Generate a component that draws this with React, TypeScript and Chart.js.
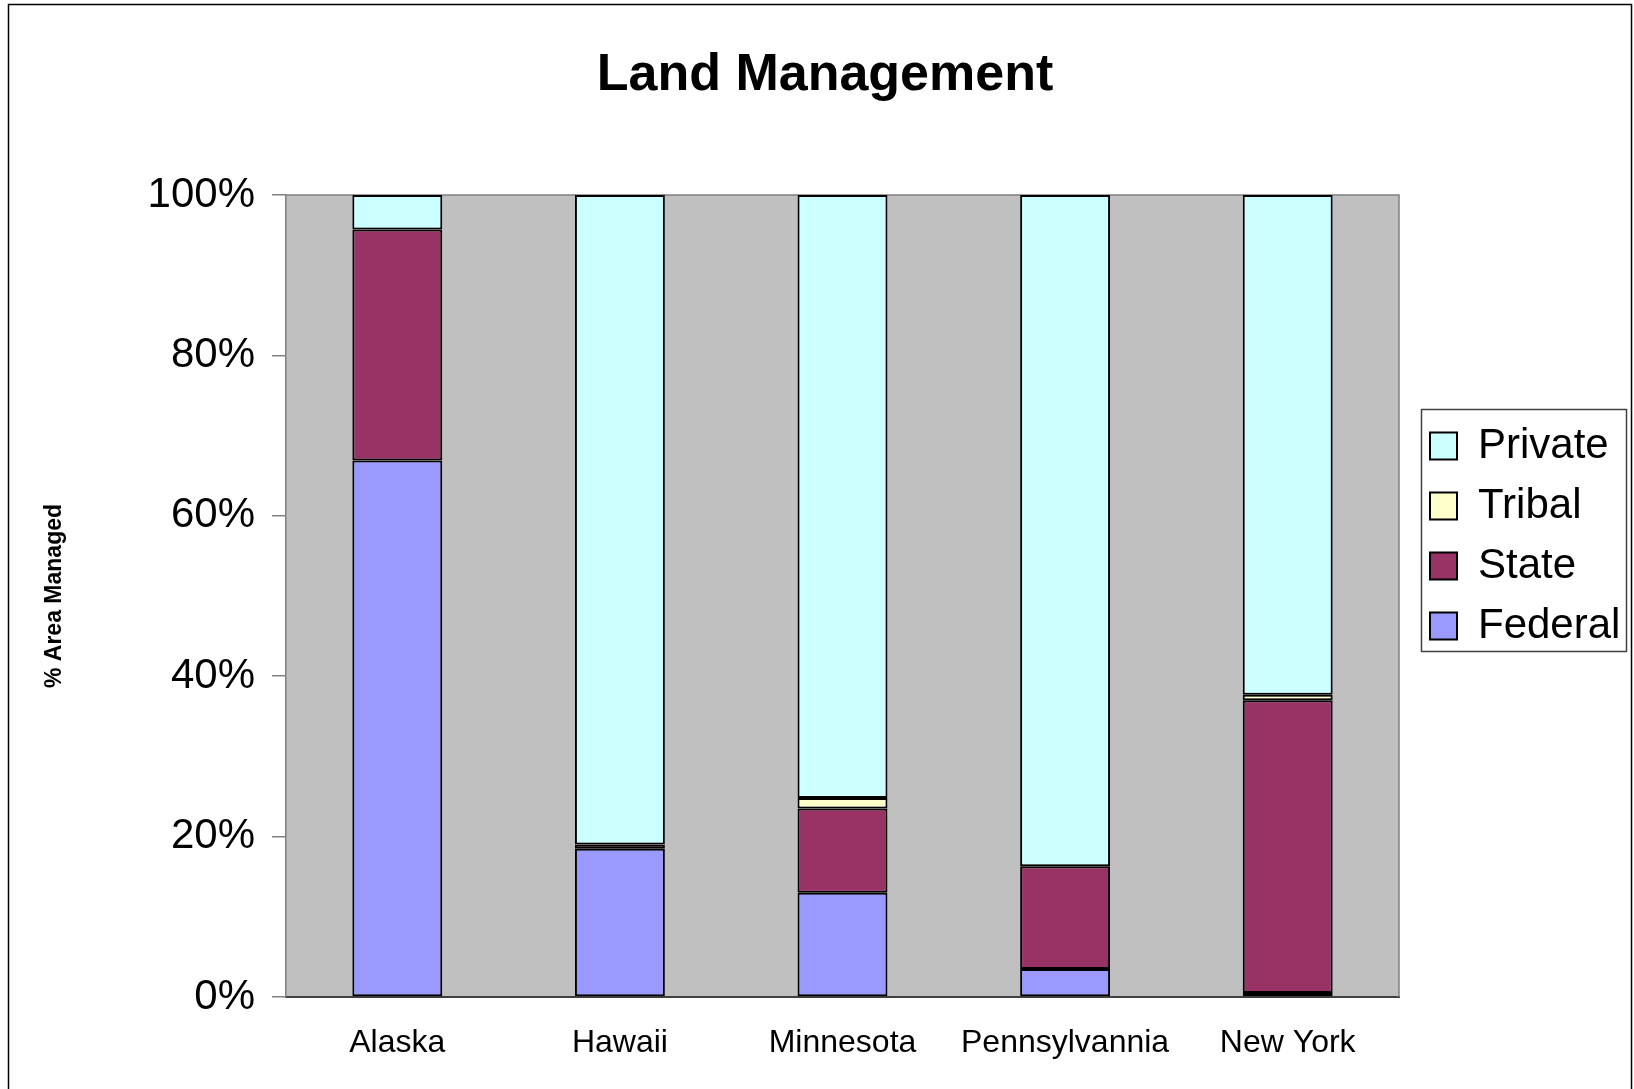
import React, { useEffect, useRef, useState } from 'react';
import { Chart, registerables } from 'chart.js';

Chart.register(...registerables);

const categories = ['Alaska', 'Hawaii', 'Minnesota', 'Pennsylvannia', 'New York'];
const federal = [66.9, 18.5, 13.0, 3.5, 0.5];
const stateLand = [28.8, 0.5, 10.5, 12.8, 36.5];
const tribal = [0, 0, 1.3, 0, 0.7];
const privateLand = [4.3, 81.0, 75.2, 83.7, 62.3];
const yTicks = [0, 20, 40, 60, 80, 100];

const FONT = "'Liberation Sans', Arial, Helvetica, sans-serif";

export default function App() {
  const ref = useRef<HTMLCanvasElement>(null);
  const [err, setErr] = useState('');

  useEffect(() => {
    const canvas = ref.current;
    if (!canvas) return;
    Chart.defaults.font.family = FONT;
    Chart.defaults.color = '#000';

    const decor = {
      id: 'decor',
      beforeLayout(chart: any) {
        const lg = chart.legend;
        if (lg && !lg.__patched) {
          const orig = lg.fit;
          lg.fit = function () {
            orig.call(lg);
            lg.width = 235;
          };
          lg.__patched = true;
        }
      },
      beforeDraw(chart: any) {
        const ctx = chart.ctx;
        const a = chart.chartArea;
        ctx.save();
        ctx.fillStyle = '#ffffff';
        ctx.fillRect(0, 0, chart.width, chart.height);
        ctx.fillStyle = '#C0C0C0';
        ctx.fillRect(a.left, a.top, a.right - a.left, a.bottom - a.top);
        ctx.strokeStyle = '#000';
        ctx.lineWidth = 1.5;
        ctx.strokeRect(8.5, 4.5, 1623, 1200);
        ctx.restore();
        const lg = chart.legend;
        if (lg) {
          lg.left = 1412;
          lg.top = 407;
          lg.right = lg.left + lg.width;
          lg.bottom = lg.top + 500;
        }
      },
      beforeDatasetsDraw(chart: any) {
        const ctx = chart.ctx;
        const a = chart.chartArea;
        ctx.save();
        ctx.strokeStyle = '#808080';
        ctx.lineWidth = 1.5;
        ctx.beginPath();
        ctx.moveTo(a.left, a.top);
        ctx.lineTo(a.right, a.top);
        ctx.lineTo(a.right, a.bottom);
        ctx.stroke();
        ctx.restore();
      },
      afterDraw(chart: any) {
        const ctx = chart.ctx;
        ctx.save();
        ctx.strokeStyle = '#404040';
        ctx.lineWidth = 1.5;
        ctx.strokeRect(1421.5, 409.5, 205, 242);
        ctx.restore();
      },
    };

    let chart: any = null;
    try {
      chart = new Chart(canvas, {
        type: 'bar',
        data: {
          labels: categories,
          datasets: [
            { label: 'Federal', data: federal, backgroundColor: '#9999FF' },
            { label: 'State', data: stateLand, backgroundColor: '#993366' },
            { label: 'Tribal', data: tribal, backgroundColor: '#FFFFCC' },
            { label: 'Private', data: privateLand, backgroundColor: '#CCFFFF' },
          ].map((d) => ({
            ...d,
            borderColor: '#000',
            borderWidth: 2,
            borderSkipped: false,
            categoryPercentage: 1,
            barPercentage: 0.404,
          })),
        },
        options: {
          animation: false,
          responsive: false,
          devicePixelRatio: 1,
          layout: { padding: { left: 16, right: 0, top: 0, bottom: 0 } },
          plugins: {
            title: {
              display: true,
              text: 'Land Management',
              color: '#000',
              font: { size: 52, weight: 'bold', family: FONT },
              padding: { top: 44, bottom: 88.6 },
            },
            legend: {
              position: 'right',
              align: 'start',
              reverse: true,
              labels: {
                color: '#000',
                font: { size: 42, family: FONT },
                boxWidth: 27,
                boxHeight: 27,
                padding: 18,
              },
            },
            tooltip: { enabled: false },
          },
          scales: {
            x: {
              stacked: true,
              grid: { display: false, drawTicks: false },
              border: { display: true, color: '#404040', width: 2 },
              ticks: { color: '#000', font: { size: 32, family: FONT }, padding: 27, maxRotation: 0 },
              afterFit: (s: any) => {
                s.height = 92;
              },
            },
            y: {
              stacked: true,
              min: 0,
              max: 100,
              afterBuildTicks: (s: any) => {
                s.ticks = yTicks.map((v) => ({ value: v }));
              },
              ticks: {
                color: '#000',
                font: { size: 42, family: FONT },
                padding: 17,
                callback: (v: any) => v + '%',
              },
              grid: {
                drawOnChartArea: false,
                drawTicks: true,
                tickLength: 14,
                color: '#808080',
                lineWidth: 1.5,
              },
              border: { display: true, color: '#808080', width: 1.5 },
              title: {
                display: true,
                text: '% Area Managed',
                color: '#000',
                font: { size: 23, weight: 'bold', family: FONT },
                padding: { top: 25, bottom: 0 },
              },
              afterFit: (s: any) => {
                s.width = 270;
              },
            },
          },
        },
        plugins: [decor],
      } as any);
    } catch (e: any) {
      setErr(String(e && e.stack ? e.stack : e));
    }

    return () => {
      if (chart) chart.destroy();
    };
  }, []);

  return (
    <div style={{ position: 'absolute', left: 0, top: 0, width: 1634, height: 1089 }}>
      <canvas ref={ref} width={1634} height={1089} style={{ display: 'block' }} />
      {err ? (
        <pre style={{ position: 'absolute', left: 20, top: 20, fontSize: 16, color: 'red', background: '#fff', whiteSpace: 'pre-wrap', width: 1500 }}>{err}</pre>
      ) : null}
    </div>
  );
}
